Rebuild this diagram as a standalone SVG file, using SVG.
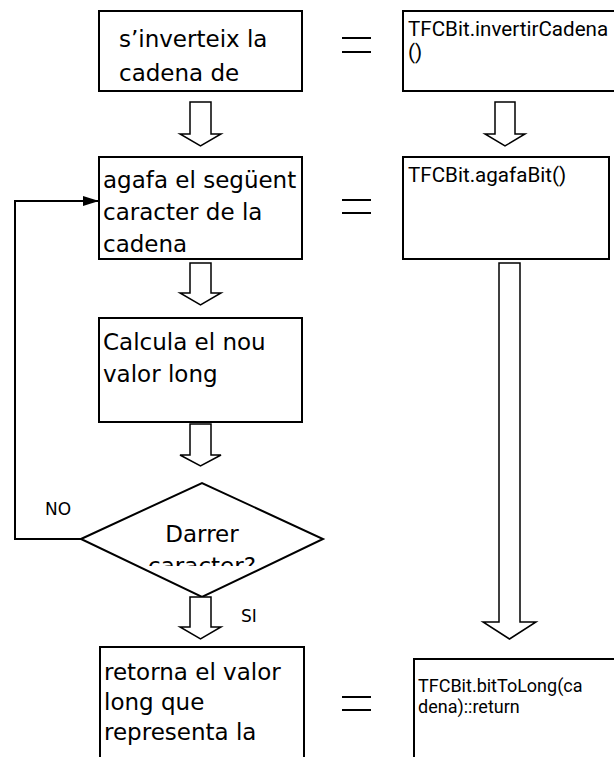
<svg xmlns="http://www.w3.org/2000/svg" width="614" height="757" viewBox="0 0 614 757">
<style>
.box{fill:#fff;stroke:#000;stroke-width:2}
.harrow{fill:#fff;stroke:#000;stroke-width:1.5;stroke-linejoin:miter}
.t{font-family:"DejaVu Sans",Verdana,sans-serif;font-size:23px;fill:#000}
.m{font-family:Roboto,"Liberation Sans",Arial,sans-serif;font-size:20.6px;fill:#000}
.m2{font-family:Roboto,"Liberation Sans",Arial,sans-serif;font-size:18px;fill:#000}
.s{font-family:"DejaVu Sans",Verdana,sans-serif;font-size:17px;fill:#000}
.eq{stroke:#000;stroke-width:2}
.line{fill:none;stroke:#000;stroke-width:2}
</style>
<defs>
<clipPath id="c1"><rect x="99" y="11" width="203" height="80"/></clipPath>
<clipPath id="cd"><rect x="81" y="483" width="242" height="83"/></clipPath>
<clipPath id="cr1"><rect x="403" y="11" width="211" height="80"/></clipPath>
<marker id="ah" markerWidth="16" markerHeight="10" refX="16" refY="5" orient="auto" markerUnits="userSpaceOnUse"><path d="M0,0 L16,5 L0,10 Z" fill="#000"/></marker>
</defs>
<g id="n1">
<rect class="box" x="99" y="11" width="203" height="80"/>
<g clip-path="url(#c1)"><text class="t" x="119" y="47">s’inverteix la</text><text class="t" x="119" y="81">cadena de</text></g>
</g>
<g id="n2">
<rect class="box" x="99" y="157" width="203" height="102"/>
<text class="t" x="103" y="188">agafa el següent</text>
<text class="t" x="103" y="220">caracter de la</text>
<text class="t" x="103" y="252">cadena</text>
</g>
<g id="n3">
<rect class="box" x="99" y="318" width="203" height="104"/>
<text class="t" x="103" y="350">Calcula el nou</text>
<text class="t" x="103" y="382">valor long</text>
</g>
<g id="n4">
<polygon class="box" points="81,539 202,483 323,539 202,597"/>
<g clip-path="url(#cd)"><text class="t" x="202" y="542" text-anchor="middle">Darrer</text><text class="t" x="202" y="574" text-anchor="middle">caracter?</text></g>
</g>
<g id="n5">
<rect class="box" x="100" y="647" width="204" height="120"/>
<text class="t" x="104" y="680">retorna el valor</text>
<text class="t" x="104" y="710">long que</text>
<text class="t" x="104" y="740">representa la</text>
</g>
<g id="r1">
<rect class="box" x="403" y="11" width="220" height="80"/>
<g clip-path="url(#cr1)"><text class="m" x="408" y="36">TFCBit.invertirCadena</text><text class="m" x="408" y="59">()</text></g>
</g>
<g id="r2">
<rect class="box" x="403" y="157" width="206" height="102"/>
<text class="m" x="408" y="182">TFCBit.agafaBit()</text>
</g>
<g id="r3">
<rect class="box" x="414" y="659" width="210" height="110"/>
<text class="m2" x="418" y="692">TFCBit.bitToLong(ca</text>
<text class="m2" x="418" y="713">dena)::return</text>
</g>
<g id="connectors">
<polygon class="harrow" points="190,102 211,102 211,134 221,134 200.5,146 180,134 190,134"/>
<polygon class="harrow" points="190,263 211,263 211,293 221,293 200.5,305 180,293 190,293"/>
<polygon class="harrow" points="190,424 211,424 211,455 221,455 200.5,466 180,455 190,455"/>
<polygon class="harrow" points="190,597 211,597 211,627 221,627 200.5,639 180,627 190,627"/>
<polygon class="harrow" points="495,102 515,102 515,134 525,134 505,146 485,134 495,134"/>
<polygon class="harrow" points="499,263 520,263 520,622 536,622 509.5,639 483,622 499,622"/>
<polyline class="line" points="81,539 15,539 15,201 99,201" marker-end="url(#ah)"/>
<text class="s" x="45" y="515">NO</text>
<text class="s" x="241" y="622">SI</text>
<line class="eq" x1="342" y1="38" x2="371" y2="38"/><line class="eq" x1="342" y1="52" x2="371" y2="52"/>
<line class="eq" x1="342" y1="200" x2="371" y2="200"/><line class="eq" x1="342" y1="213" x2="371" y2="213"/>
<line class="eq" x1="342" y1="697" x2="371" y2="697"/><line class="eq" x1="342" y1="710" x2="371" y2="710"/>
</g>
</svg>
